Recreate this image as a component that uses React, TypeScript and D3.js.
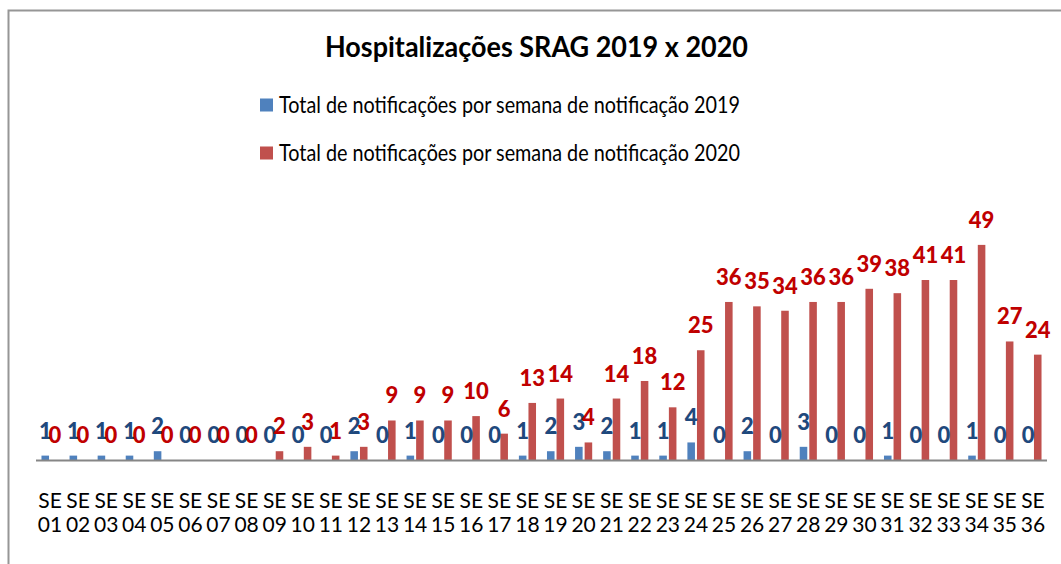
import React, { useRef, useEffect } from 'react';
import * as d3 from 'd3';

const weeks = [
  'SE 01', 'SE 02', 'SE 03', 'SE 04', 'SE 05', 'SE 06', 'SE 07', 'SE 08', 'SE 09',
  'SE 10', 'SE 11', 'SE 12', 'SE 13', 'SE 14', 'SE 15', 'SE 16', 'SE 17', 'SE 18',
  'SE 19', 'SE 20', 'SE 21', 'SE 22', 'SE 23', 'SE 24', 'SE 25', 'SE 26', 'SE 27',
  'SE 28', 'SE 29', 'SE 30', 'SE 31', 'SE 32', 'SE 33', 'SE 34', 'SE 35', 'SE 36',
];

const values2019 = [
  1, 1, 1, 1, 2, 0, 0, 0, 0, 0, 0, 2, 0, 1, 0, 0, 0, 1,
  2, 3, 2, 1, 1, 4, 0, 2, 0, 3, 0, 0, 1, 0, 0, 1, 0, 0,
];

const values2020 = [
  0, 0, 0, 0, 0, 0, 0, 0, 2, 3, 1, 3, 9, 9, 9, 10, 6, 13,
  14, 4, 14, 18, 12, 25, 36, 35, 34, 36, 36, 39, 38, 41, 41, 49, 27, 24,
];

const seriesNames = [
  'Total de notificações por semana de notificação 2019',
  'Total de notificações por semana de notificação 2020',
];

const title = 'Hospitalizações SRAG 2019 x 2020';

const barColors = ['#4F81BD', '#C0504D'];
const labelColors = ['#1F497D', '#C00000'];
const FONT = 'Lato, "Open Sans", sans-serif';

export default function App() {
  const svgRef = useRef<SVGSVGElement>(null);

  useEffect(() => {
    const svg = d3.select(svgRef.current);
    svg.selectAll('*').remove();

    const width = 1061;
    const height = 564;

    svg.append('rect').attr('width', width).attr('height', height).attr('fill', '#fff');

    // chart frame (only top and left edges are visible)
    svg.append('path')
      .attr('d', `M8.5,${height} V10.5 H${width}`)
      .attr('fill', 'none')
      .attr('stroke', '#969696')
      .attr('stroke-width', 2);

    // title (the original text is a bit stretched vertically)
    svg.append('text')
      .attr('x', 325)
      .attr('y', 57)
      .attr('textLength', 423)
      .attr('lengthAdjust', 'spacingAndGlyphs')
      .style('font-family', FONT)
      .style('font-weight', 'bold')
      .style('font-size', '28px')
      .attr('fill', '#000')
      .text(title);

    // legend
    const legend = svg.append('g');
    seriesNames.forEach((name, i) => {
      const y = 105 + i * 48;
      legend.append('rect')
        .attr('x', 260)
        .attr('y', y - 6.5)
        .attr('width', 13)
        .attr('height', 13)
        .attr('fill', barColors[i]);
      legend.append('text')
        .attr('x', 279)
        .attr('y', y + 8)
        .attr('textLength', 461)
        .attr('lengthAdjust', 'spacingAndGlyphs')
        .style('font-family', FONT)
        .style('font-size', '23px')
        .attr('fill', '#000')
        .text(name);
    });

    const x0 = d3.scaleBand<string>()
      .domain(weeks)
      .range([36, 1047])
      .paddingInner(0.39)
      .paddingOuter(0.195);

    const x1 = d3.scaleBand<string>()
      .domain(['2019', '2020'])
      .range([0, x0.bandwidth()])
      .paddingInner(0.21);

    const y = d3.scaleLinear().domain([0, 50]).range([460, 240.5]);

    const rows = weeks.map((w, i) => ({
      week: w,
      vals: [
        { key: '2019', v: values2019[i], idx: 0 },
        { key: '2020', v: values2020[i], idx: 1 },
      ],
    }));

    const groups = svg.append('g')
      .selectAll('g')
      .data(rows)
      .enter()
      .append('g')
      .attr('transform', d => `translate(${x0(d.week)},0)`);

    groups.selectAll('rect')
      .data(d => d.vals)
      .enter()
      .append('rect')
      .attr('x', d => x1(d.key)!)
      .attr('y', d => y(d.v))
      .attr('width', x1.bandwidth())
      .attr('height', d => y(0) - y(d.v))
      .attr('fill', d => barColors[d.idx]);

    groups.selectAll('text.lbl')
      .data(d => d.vals)
      .enter()
      .append('text')
      .attr('class', 'lbl')
      .attr('x', d => x1(d.key)! + x1.bandwidth() / 2)
      .attr('y', d => y(d.v) - 17)
      .attr('text-anchor', 'middle')
      .style('font-family', FONT)
      .style('font-weight', 900)
      .style('font-size', '22px')
      .attr('fill', d => labelColors[d.idx])
      .text(d => d.v);

    // category axis
    svg.append('line')
      .attr('x1', 36)
      .attr('x2', 1047)
      .attr('y1', 460.5)
      .attr('y2', 460.5)
      .attr('stroke', '#868686')
      .attr('stroke-width', 2);

    const ticks = svg.append('g');
    weeks.forEach(w => {
      const cx = x0(w)! + x0.bandwidth() / 2;
      const parts = w.split(' ');
      const t = ticks.append('text')
        .attr('text-anchor', 'middle')
        .style('font-family', FONT)
        .style('font-size', '21px')
        .attr('fill', '#000');
      parts.forEach((p, k) => {
        t.append('tspan').attr('x', cx).attr('y', 508 + k * 24).text(p);
      });
    });
  }, []);

  return (
    <svg
      ref={svgRef}
      width={1061}
      height={564}
      style={{ position: 'absolute', left: 0, top: 0 }}
    />
  );
}
